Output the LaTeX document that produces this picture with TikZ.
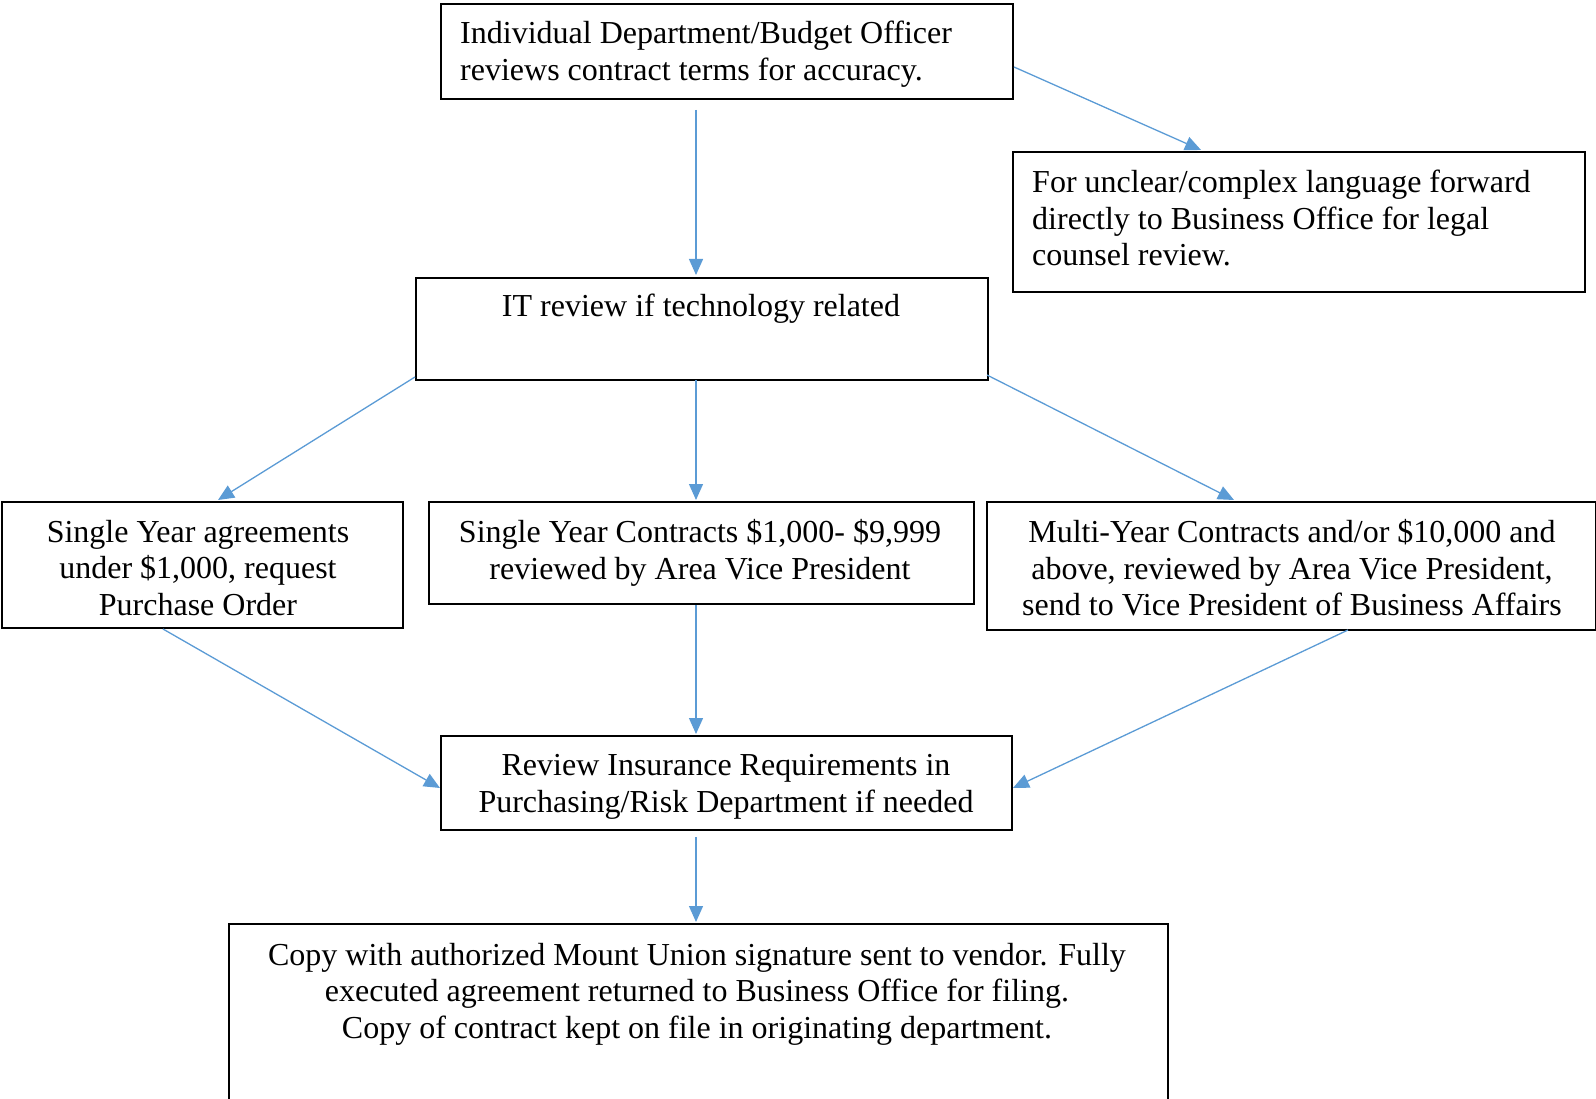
\documentclass[tikz,border=0pt]{standalone}
\usepackage{fontspec}
\setmainfont{Liberation Serif}
\usetikzlibrary{arrows.meta}
\definecolor{arrowblue}{HTML}{5B9BD5}
\tikzset{
  box/.style={draw=black, line width=2pt, rectangle, inner sep=0pt, anchor=north west},
  txt/.style={inner sep=0pt, font=\fontsize{32}{36.6}\selectfont},
  conn/.style={draw=arrowblue, line width=1.3pt, -{Triangle[length=16pt,width=14pt]}, shorten >=0pt}
}
\begin{document}
\begin{tikzpicture}[x=1pt,y=-1pt]
\useasboundingbox (0,0) rectangle (1596,1099);
% boxes
\node[box, minimum width=572pt, minimum height=95pt] (b1) at (440,3) {};
\node[box, minimum width=572pt, minimum height=140pt] (b2) at (1012,151) {};
\node[box, minimum width=572pt, minimum height=102pt] (it) at (415,277) {};
\node[box, minimum width=401pt, minimum height=126pt] (bl) at (1,501) {};
\node[box, minimum width=545pt, minimum height=102pt] (bm) at (428,501) {};
\node[box, minimum width=609pt, minimum height=128pt] (br) at (986,501) {};
\node[box, minimum width=571pt, minimum height=94pt] (ins) at (440,735) {};
\node[box, minimum width=939pt, minimum height=200pt] (bot) at (228,923) {};
% texts
\node[txt, align=left, anchor=west] (t1) at (460,54) {Individual Department/Budget Officer\\reviews contract terms for accuracy.};
\node[txt, align=left, anchor=west] (t2) at (1032,218) {For unclear/complex language forward\\directly to Business Office for legal\\counsel review.};
\node[txt, align=center] (tit) at (701,309) {IT review if technology related};
\node[txt, align=center] (tl) at (198,568) {Single Year agreements\\under \$1,000, request\\Purchase Order};
\node[txt, align=center] (tm) at (700,553) {Single Year Contracts \$1,000- \$9,999\\reviewed by Area Vice President};
\node[txt, align=center] (tr) at (1292,568) {Multi-Year Contracts and/or \$10,000 and\\above, reviewed by Area Vice President,\\send to Vice President of Business Affairs};
\node[txt, align=center] (tins) at (726,787) {Review Insurance Requirements in\\Purchasing/Risk Department if needed};
\node[txt, align=center] (tbot) at (697,994) {Copy with authorized Mount Union signature sent to vendor. Fully\\executed agreement returned to Business Office for filing.\\Copy of contract kept on file in originating department.};
% connector endpoints
\coordinate (b1s) at (696,110);
\coordinate (itn) at (696,275);
\coordinate (b1e) at (1014,67);
\coordinate (b2n) at (1201,150);
\coordinate (itsw) at (415,377);
\coordinate (bln) at (218,500);
\coordinate (its) at (696,380);
\coordinate (bmn) at (696,500);
\coordinate (itse) at (987,375);
\coordinate (brn) at (1234,500);
\coordinate (bls) at (163,629);
\coordinate (insw) at (440,788);
\coordinate (bms) at (696,605);
\coordinate (insn) at (696,734);
\coordinate (brs) at (1348,630);
\coordinate (inse) at (1013,788);
\coordinate (inss) at (696,837);
\coordinate (botn) at (696,922);
% connectors
\draw[conn] (b1s) -- (itn);
\draw[conn] (b1e) -- (b2n);
\draw[conn] (itsw) -- (bln);
\draw[conn] (its) -- (bmn);
\draw[conn] (itse) -- (brn);
\draw[conn] (bls) -- (insw);
\draw[conn] (bms) -- (insn);
\draw[conn] (brs) -- (inse);
\draw[conn] (inss) -- (botn);
\end{tikzpicture}
\end{document}
